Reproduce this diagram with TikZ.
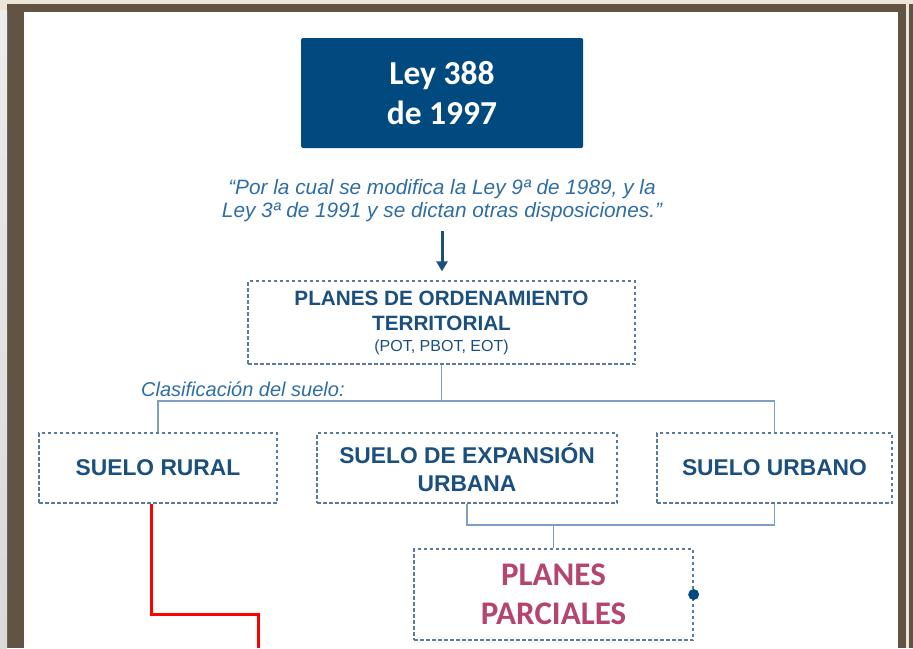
\documentclass[tikz,border=0pt]{standalone}
\usepackage{fontspec}
\setmainfont{Liberation Sans}
\newfontfamily\calibri{Carlito}
\usetikzlibrary{arrows.meta}
\definecolor{marco}{HTML}{615443}
\definecolor{crema}{HTML}{ECE5D8}
\definecolor{azulley}{HTML}{004A80}
\definecolor{azultexto}{HTML}{1B4F7E}
\definecolor{azulcita}{HTML}{2F6EA5}
\definecolor{bordecaja}{HTML}{5A7B9B}
\definecolor{enlace}{HTML}{7F9FC2}
\definecolor{rosa}{HTML}{B4456F}
\begin{document}
\begin{tikzpicture}
    [x=1pt, y=-1pt,
     caja/.style={draw=bordecaja, line width=1.3pt, dash pattern=on 3.5pt off 2.5pt,
       text=azultexto, align=center, inner sep=0pt,
       font=\fontsize{22.8}{28}\selectfont\bfseries},
     linea/.style={draw=enlace, line width=1.4pt}]
    \useasboundingbox (0,0) rectangle (913,648);
    % marco
    \fill[crema] (0,0) rectangle (913,648);
    \fill[marco] (7,4) rectangle (906,648);
    \shade[top color=gray!15, bottom color=gray!30] (0,10) rectangle (7,648);
    \fill[marco] (909,4) rectangle (913,648);
    \fill[white] (24,12) rectangle (898,648);

    \node[fill=azulley, rounded corners=1.5pt, minimum width=282, minimum height=110,
      text=white, align=center, font=\calibri\fontsize{33.5}{40}\selectfont\bfseries]
      (ley) at (442,93) {Ley 388\\de 1997};
    \node[text=azulcita, align=center, inner sep=0pt,
      font=\fontsize{20.8}{23}\selectfont\itshape]
      (lema) at (442,201) {“Por la cual se modifica la Ley 9ª de 1989, y la\\Ley 3ª de 1991 y se dictan otras disposiciones.”};

    \node[caja, minimum width=387, minimum height=83, font=\fontsize{20.7}{25}\selectfont\bfseries]
      (pot) at (441.5,322.5) {PLANES DE ORDENAMIENTO\\TERRITORIAL\\[-4pt]{\fontsize{16}{19}\selectfont\mdseries (POT, PBOT, EOT)}};
    \node[caja, minimum width=238, minimum height=70] (rural) at (158,468) {SUELO RURAL};
    \node[caja, minimum width=300, minimum height=70] (expansion) at (467,468) {SUELO DE EXPANSIÓN\\URBANA};
    \node[caja, minimum width=235, minimum height=70] (urbano) at (774.5,468) {SUELO URBANO};
    \node[caja, minimum width=279, minimum height=91, text=rosa,
      font=\calibri\fontsize{33}{39}\selectfont\bfseries]
      (parciales) at (553.5,594.5) {PLANES\\PARCIALES};

    \node[anchor=base west, inner sep=0pt, text=azulcita,
      font=\fontsize{20}{24}\selectfont\itshape] (clasif) at (141,396) {Clasificación del suelo:};

    \draw[azultexto, line width=3pt, shorten <=9pt, shorten >=9pt,
      -{Triangle[width=11pt,length=10pt]}] (lema.south) -- (lema.south |- pot.north);

    \coordinate (bus) at (441.5,401);
    \coordinate (bus2) at (553.5,525);
    \draw[linea] (pot.south) -- (bus);
    \draw[linea] (rural.north) |- (bus) -| (urbano.north);
    \draw[linea] (expansion.south) |- (bus2) -| (urbano.south);
    \draw[linea] (bus2) -- (parciales.north);
    \fill[azulley] (parciales.east) circle (5.5pt);

    \coordinate (giro) at (258,614);
    \coordinate (fin) at (258,648);
    \draw[red, line width=3pt] ([xshift=-7pt]rural.south) |- (giro) -- (fin);
  \end{tikzpicture}
\end{document}
